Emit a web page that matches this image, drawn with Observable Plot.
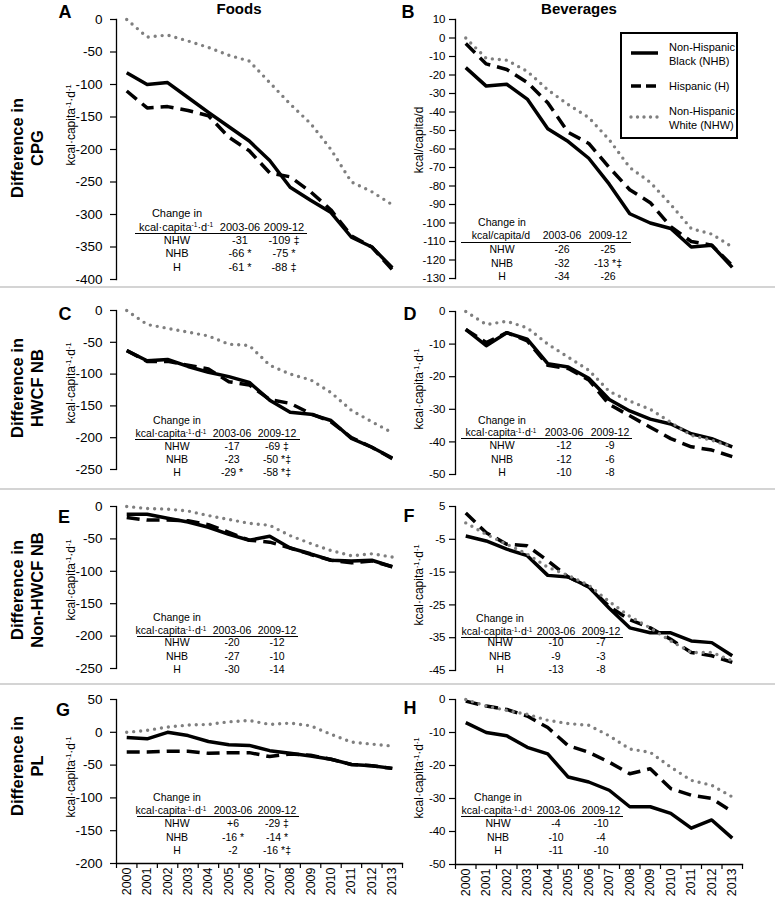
<!DOCTYPE html>
<html><head><meta charset="utf-8">
<script src="https://cdn.jsdelivr.net/npm/d3@7"></script>
<script src="https://cdn.jsdelivr.net/npm/@observablehq/plot@0.6"></script>
<style>
body{margin:0;background:#fff;font-family:"Liberation Sans",Arial,sans-serif;color:#000;}
#root{position:relative;width:775px;height:898px;overflow:hidden;background:#fff;}
.abs{position:absolute;white-space:nowrap;line-height:1.15;text-align:center;}
.sup{font-size:0.6em;position:relative;top:-0.55em;}
.sep{position:absolute;left:0;width:775px;height:2px;background:#d4d4d4;}
.uline{position:absolute;height:1px;background:#000;}
</style></head><body><div id="root"></div>
<script>
// ---------- DATA ----------
const years = [2000,2001,2002,2003,2004,2005,2006,2007,2008,2009,2010,2011,2012,2013];

// A: Foods, CPG
const cpgFoodsNHB = [-82,-100,-97,-120,-143,-165,-187,-217,-258,-278,-297,-335,-350,-382];
const cpgFoodsH   = [-110,-136,-134,-140,-148,-181,-202,-236,-242,-265,-293,-333,-350,-385];
const cpgFoodsNHW = [0,-27,-24,-33,-43,-55,-64,-97,-130,-160,-200,-250,-265,-285];
// B: Beverages, CPG
const cpgBevNHB = [-16,-26,-25,-33,-49,-56,-65,-79,-95,-100,-103,-113,-112,-124];
const cpgBevH   = [-3,-14,-17,-24,-35,-51,-57,-70,-82,-89,-102,-110,-112,-123];
const cpgBevNHW = [0,-11,-12,-18,-28,-36,-43,-55,-70,-78,-90,-103,-106,-113];
// C: Foods, HWCF NB
const hwcfFoodsNHB = [-63,-79,-77,-88,-97,-104,-113,-141,-160,-163,-173,-201,-215,-232];
const hwcfFoodsH   = [-63,-80,-80,-86,-92,-112,-117,-140,-146,-162,-175,-200,-215,-233];
const hwcfFoodsNHW = [0,-22,-28,-34,-40,-53,-55,-86,-100,-109,-129,-157,-175,-192];
// D: Beverages, HWCF NB
const hwcfBevNHB = [-5.5,-10.5,-6.5,-8.5,-16,-17,-20.5,-27,-30.5,-33,-34.5,-37.5,-39,-41.5];
const hwcfBevH   = [-5.5,-9.5,-6.5,-9,-16.5,-17.5,-21,-28.5,-32,-35.5,-39,-41.5,-42.5,-44.5];
const hwcfBevNHW = [0,-4,-3,-5,-10,-14,-18,-24.5,-27.5,-30,-34,-38,-39.5,-41.5];
// E: Foods, Non-HWCF NB
const nonFoodsNHB = [-12,-12,-18,-24,-32,-43,-52,-46,-64,-73,-83,-84,-83,-93];
const nonFoodsH   = [-17,-21,-21,-22,-28,-40,-52,-55,-64,-74,-83,-87,-84,-93];
const nonFoodsNHW = [0,-3,-4,-7,-14,-20,-26,-29,-45,-57,-68,-76,-73,-78];
// F: Beverages, Non-HWCF NB
const nonBevNHB = [-4,-5.5,-8,-10,-16,-16.5,-19.5,-26,-32,-33.5,-33.5,-36,-36.5,-40.5];
const nonBevH   = [3,-3,-6.5,-7,-11.5,-16.5,-19.5,-25.5,-29.5,-32,-35.5,-39.5,-40.5,-42.5];
const nonBevNHW = [0,-3.5,-6.5,-9.5,-13.5,-16,-19,-24,-28.5,-32,-36,-39.5,-39.5,-42];
// G: Foods, PL
const plFoodsNHB = [-8,-10,0,-5,-14,-19,-20,-28,-32,-36,-41,-49,-51,-55];
const plFoodsH   = [-30,-30,-29,-29,-32,-31,-31,-37,-33,-35,-41,-49,-51,-55];
const plFoodsNHW = [0,3,8,11,12,16,18,12,14,10,-3,-15,-18,-21];
// H: Beverages, PL
const plBevNHB = [-7,-10,-11,-14.5,-16.5,-23.5,-25,-27.5,-32.5,-32.5,-34.5,-39,-36.5,-42];
const plBevH   = [-0.5,-2,-3,-5,-8.5,-14,-16,-19,-22.5,-21,-27,-29,-30,-34];
const plBevNHW = [0,-2,-3.3,-4.5,-6.3,-7.3,-7.8,-11,-15,-16,-20.5,-24.5,-26,-29.5];

// y tick labels
const ticksA = [0,-50,-100,-150,-200,-250,-300,-350,-400];
const ticksB = [10,0,-10,-20,-30,-40,-50,-60,-70,-80,-90,-100,-110,-120,-130];
const ticksC = [0,-50,-100,-150,-200,-250];
const ticksD = [0,-10,-20,-30,-40,-50];
const ticksE = [0,-50,-100,-150,-200,-250];
const ticksF = [5,-5,-15,-25,-35,-45];
const ticksG = [50,0,-50,-100,-150,-200];
const ticksH = [0,-10,-20,-30,-40,-50];

// inset tables: [group, 2003-06, 2009-12]
const tableA = [["NHW","-31","-109 ‡"],["NHB","-66 *","-75 *"],["H","-61 *","-88 ‡"]];
const tableB = [["NHW","-26","-25"],["NHB","-32","-13 *‡"],["H","-34","-26"]];
const tableC = [["NHW","-17","-69 ‡"],["NHB","-23","-50 *‡"],["H","-29 *","-58 *‡"]];
const tableD = [["NHW","-12","-9"],["NHB","-12","-6"],["H","-10","-8"]];
const tableE = [["NHW","-20","-12"],["NHB","-27","-10"],["H","-30","-14"]];
const tableF = [["NHW","-10","-7"],["NHB","-9","-3"],["H","-13","-8"]];
const tableG = [["NHW","+6","-29 ‡"],["NHB","-16 *","-14 *"],["H","-2","-16 *‡"]];
const tableH = [["NHW","-4","-10"],["NHB","-10","-4"],["H","-11","-10"]];
const periods = ["2003-06","2009-12"];
const rowTitles = [["Difference in","CPG"],["Difference in","HWCF NB"],["Difference in","Non-HWCF NB"],["Difference in","PL"]];
const colTitles = ["Foods","Beverages"];
const legendLabels = [["Non-Hispanic","Black (NHB)"],["Hispanic (H)"],["Non-Hispanic","White (NHW)"]];

// ---------- LAYOUT ----------
const root = document.getElementById("root");
const unitHTML = 'kcal·capita<span class="sup">-1</span>·d<span class="sup">-1</span>';
const unitSlash = 'kcal/capita/d';
const groups = [
  {key:"NHB", stroke:"#000", sw:3.5, dash:null, cap:"butt"},
  {key:"H", stroke:"#000", sw:3.5, dash:"13 7", cap:"butt"},
  {key:"NHW", stroke:"#7f7f7f", sw:3.4, dash:"0 7", cap:"round"}
];
const cols = [
  {svgLeft:40, plotLeft:116, plotRight:402, tickFont:13.5, tickPad:8, titleX:72},
  {svgLeft:385, plotLeft:455, plotRight:742, tickFont:11.5, tickPad:4, titleX:420}
];
const panels = [
  {id:"A", col:0, top:19, bottom:279, domain:[-400,0], ticks:ticksA, s:[cpgFoodsNHB,cpgFoodsH,cpgFoodsNHW], table:tableA, unit:unitHTML,
   letter:[65,12], titleY:125, tb:{fs:11, yc:213, yh:227, yl:233, x0:135, x1:307, uc:176, c:[177,240,284], rows:[240,253,267]}},
  {id:"B", col:1, top:19, bottom:278, domain:[-130,10], ticks:ticksB, s:[cpgBevNHB,cpgBevH,cpgBevNHW], table:tableB, unit:unitSlash,
   letter:[408,12], titleY:140, tb:{fs:10.5, yc:222, yh:235, yl:242, x0:461, x1:631, uc:501, c:[502,562,608], rows:[249,263,276]}},
  {id:"C", col:0, top:310, bottom:469, domain:[-250,0], ticks:ticksC, s:[hwcfFoodsNHB,hwcfFoodsH,hwcfFoodsNHW], table:tableC, unit:unitHTML,
   letter:[65,314], titleY:383, tb:{fs:10.5, yc:420, yh:433, yl:439, x0:135, x1:300, uc:171, c:[177,232,277], rows:[446,459,472]}},
  {id:"D", col:1, top:311, bottom:474, domain:[-50,0], ticks:ticksD, s:[hwcfBevNHB,hwcfBevH,hwcfBevNHW], table:tableD, unit:unitHTML,
   letter:[410,314], titleY:389, tb:{fs:10.5, yc:420, yh:432, yl:438, x0:461, x1:632, uc:501, c:[502,564,610], rows:[445,459,472]}},
  {id:"E", col:0, top:506, bottom:668, domain:[-250,0], ticks:ticksE, s:[nonFoodsNHB,nonFoodsH,nonFoodsNHW], table:tableE, unit:unitHTML,
   letter:[64,517], titleY:580, tb:{fs:10.5, yc:617, yh:630, yl:636, x0:137, x1:298, uc:171, c:[177,232,277], rows:[642,656,669]}},
  {id:"F", col:1, top:506, bottom:670, domain:[-45,5], ticks:ticksF, s:[nonBevNHB,nonBevH,nonBevNHW], table:tableF, unit:unitHTML,
   letter:[409,516], titleY:585, tb:{fs:10.5, yc:618, yh:631, yl:637, x0:461, x1:623, uc:497, c:[500,556,601], rows:[642,656,669]}},
  {id:"G", col:0, top:699, bottom:863, domain:[-200,50], ticks:ticksG, s:[plFoodsNHB,plFoodsH,plFoodsNHW], table:tableG, unit:unitHTML, xAxis:true,
   letter:[63,710], titleY:777, tb:{fs:10.5, yc:797, yh:810, yl:816, x0:137, x1:299, uc:171, c:[177,233,277], rows:[823,837,850]}},
  {id:"H", col:1, top:699, bottom:864, domain:[-50,0], ticks:ticksH, s:[plBevNHB,plBevH,plBevNHW], table:tableH, unit:unitHTML, xAxis:true,
   letter:[410,708], titleY:778, tb:{fs:10.5, yc:797, yh:810, yl:816, x0:461, x1:623, uc:497, c:[498,556,601], rows:[823,837,850]}}
];
const rowLabelY = [148, 388, 590, 766];
const sepY = [287, 489, 684];

function txt(html, x, y, o = {}) {
  const d = document.createElement("div");
  d.className = "abs";
  d.innerHTML = html;
  d.style.left = x + "px";
  d.style.top = y + "px";
  d.style.fontSize = (o.size || 11) + "px";
  if (o.bold) d.style.fontWeight = "bold";
  if (o.lh) d.style.lineHeight = o.lh;
  d.style.transform = "translate(-50%,-50%)" + (o.rotate ? " rotate(-90deg)" : "");
  root.appendChild(d);
  return d;
}

const bounds = years.map(y => y - 0.5).concat([years[years.length - 1] + 0.5]);

function makePanel(p) {
  const L = cols[p.col];
  const mt = 10, mr = 3;
  const mb = p.xAxis ? 898 - p.bottom : 10;
  const ml = L.plotLeft - L.svgLeft;
  const width = L.plotRight + mr - L.svgLeft;
  const height = mt + (p.bottom - p.top) + mb;
  const marks = [];
  groups.forEach((g, gi) => {
    const rows = years.map((yr, i) => ({year: yr, value: p.s[gi][i]}));
    marks.push(Plot.lineY(rows, {x: "year", y: "value", stroke: g.stroke, strokeWidth: g.sw,
      strokeDasharray: g.dash, strokeLinecap: g.cap, strokeLinejoin: "round"}));
  });
  marks.push(Plot.frame({anchor: "left", stroke: "#000", strokeWidth: 1.3}));
  marks.push(Plot.axisY(p.ticks, {tickSize: 6, tickPadding: L.tickPad, tickFormat: d => String(d),
    fontSize: L.tickFont, label: null, stroke: "#000", strokeWidth: 1.2}));
  if (p.xAxis) {
    marks.push(Plot.frame({anchor: "bottom", stroke: "#000", strokeWidth: 1.3}));
    marks.push(Plot.axisX(bounds, {tickSize: 5, tickFormat: () => "", label: null, strokeWidth: 1.2}));
    marks.push(Plot.axisX(years, {tickSize: 0, tickPadding: 4, tickRotate: -90, tickFormat: d => String(d),
      fontSize: 12.5, label: null}));
  }
  const svg = Plot.plot({
    width, height, marginTop: mt, marginBottom: mb, marginLeft: ml, marginRight: mr,
    x: p.xAxis ? {domain: [bounds[0], bounds[bounds.length - 1]]} : {domain: [bounds[0], bounds[bounds.length - 1]], axis: null},
    y: {domain: p.domain},
    style: {fontFamily: '"Liberation Sans", Arial, sans-serif', color: "#000", background: "transparent", overflow: "visible"},
    marks
  });
  svg.style.position = "absolute";
  svg.style.left = L.svgLeft + "px";
  svg.style.top = (p.top - mt) + "px";
  root.appendChild(svg);

  // y title
  txt(p.unit, L.titleX, p.titleY, {size: 12, rotate: true});
  // panel letter
  txt(p.id, p.letter[0], p.letter[1], {size: 18, bold: true});
  // inset table
  const t = p.tb;
  txt("Change in", t.c[0], t.yc, {size: t.fs});
  txt(p.unit, t.uc, t.yh, {size: t.fs});
  txt(periods[0], t.c[1], t.yh, {size: t.fs});
  txt(periods[1], t.c[2], t.yh, {size: t.fs});
  const u = document.createElement("div");
  u.className = "uline";
  u.style.left = t.x0 + "px"; u.style.width = (t.x1 - t.x0) + "px"; u.style.top = t.yl + "px";
  root.appendChild(u);
  p.table.forEach((r, i) => {
    r.forEach((v, j) => txt(v, t.c[j], t.rows[i], {size: t.fs}));
  });
}

panels.forEach(makePanel);

// separators
sepY.forEach(y => { const s = document.createElement("div"); s.className = "sep"; s.style.top = (y - 1) + "px"; root.appendChild(s); });
// column titles
txt(colTitles[0], 239, 9, {size: 15, bold: true});
txt(colTitles[1], 579, 9, {size: 15, bold: true});
// row titles
rowTitles.forEach((r, i) => txt(r.join("<br>"), 27, rowLabelY[i], {size: 16.5, bold: true, rotate: true, lh: "20px"}));

// legend
(function () {
  const ns = "http://www.w3.org/2000/svg";
  const svg = document.createElementNS(ns, "svg");
  svg.setAttribute("width", 118); svg.setAttribute("height", 107);
  svg.style.position = "absolute"; svg.style.left = "620px"; svg.style.top = "32px";
  const rect = document.createElementNS(ns, "rect");
  rect.setAttribute("x", 1); rect.setAttribute("y", 1); rect.setAttribute("width", 116); rect.setAttribute("height", 105);
  rect.setAttribute("fill", "#fff"); rect.setAttribute("stroke", "#000"); rect.setAttribute("stroke-width", 2);
  svg.appendChild(rect);
  const ly = [21, 54, 85];
  const ty = [[15, 29], [54], [79, 93]];
  groups.forEach((g, i) => {
    const l = document.createElementNS(ns, "line");
    l.setAttribute("x1", 11); l.setAttribute("x2", 38); l.setAttribute("y1", ly[i]); l.setAttribute("y2", ly[i]);
    l.setAttribute("stroke", g.stroke); l.setAttribute("stroke-width", g.sw);
    if (g.dash) l.setAttribute("stroke-dasharray", g.key === "H" ? "10 5" : "0 6.5");
    l.setAttribute("stroke-linecap", g.cap);
    svg.appendChild(l);
    legendLabels[i].forEach((s, k) => {
      const t = document.createElementNS(ns, "text");
      t.setAttribute("x", 49); t.setAttribute("y", ty[i][k]);
      t.setAttribute("dominant-baseline", "central");
      t.setAttribute("font-size", 11); t.setAttribute("font-family", '"Liberation Sans", Arial, sans-serif');
      t.textContent = s;
      svg.appendChild(t);
    });
  });
  root.appendChild(svg);
})();
</script></body></html>
